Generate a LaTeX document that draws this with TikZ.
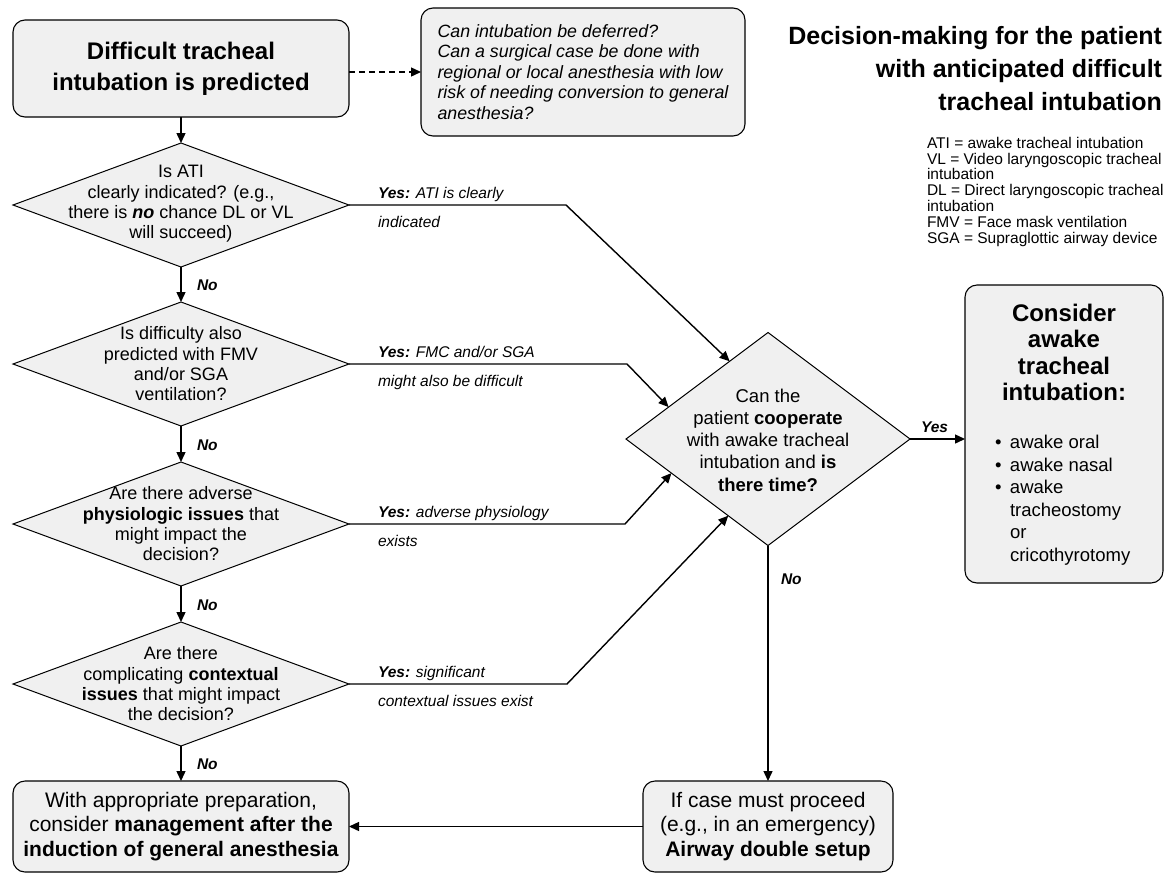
\documentclass[tikz,border=0pt]{standalone}
\usepackage{fontspec}
\setmainfont{Liberation Sans}
\usetikzlibrary{arrows.meta,shapes.geometric,calc}
\definecolor{boxfill}{RGB}{240,240,240}

\begin{document}
\begin{tikzpicture}[x=1pt,y=-1pt,
  every node/.style={inner sep=0pt, outer sep=0pt},
  rbox/.style={draw, rounded corners=12pt, fill=boxfill, line width=1.1pt, align=center},
  decision/.style={draw, diamond, fill=boxfill, line width=1pt},
  dtext/.style={align=center, font=\fontsize{18}{20.3}\selectfont},
  arr/.style={-{Triangle[length=10pt,width=9pt]}, line width=1.4pt},
  lbl/.style={anchor=base west, font=\fontsize{15.5}{18}\selectfont\itshape},
  nolbl/.style={anchor=base west, font=\fontsize{15.5}{18}\selectfont\bfseries\itshape}]

% canvas
\fill[white] (0,0) rectangle (1172,876);
\useasboundingbox (0,0) rectangle (1172,876);

% start box and the deferral question
\node[rbox, minimum width=336pt, minimum height=97pt,
      font=\fontsize{24}{31}\selectfont\bfseries] (tb) at (181,68.5)
  {Difficult tracheal\\intubation is predicted};
\node[rbox, minimum width=324pt, minimum height=128pt, align=left,
      font=\fontsize{17.8}{20.5}\selectfont\itshape] (qb) at (583,72)
  {Can intubation be deferred?\\Can a surgical case be done with\\regional or local anesthesia with low\\risk of needing conversion to general\\anesthesia?};

% title and abbreviations
\node[anchor=north east, align=right, font=\fontsize{25}{33}\selectfont\bfseries] (title) at (1162,26)
  {Decision-making for the patient\\with anticipated difficult\\tracheal intubation};
\node[anchor=north west, align=left, font=\fontsize{15.5}{15.8}\selectfont] (legend) at (927,137)
  {ATI = awake tracheal intubation\\VL = Video laryngoscopic tracheal\\intubation\\DL = Direct laryngoscopic tracheal\\intubation\\FMV = Face mask ventilation\\SGA = Supraglottic airway device};

% left column of decisions
\node[decision, minimum width=336pt, minimum height=124pt] (d1) at (181,205) {};
\node[dtext] (d1t) at (181,204) {Is ATI\\clearly indicated? (e.g.,\\there is \textbf{\textit{no}} chance DL or VL\\will succeed)};
\node[decision, minimum width=336pt, minimum height=124pt] (d2) at (181,364) {};
\node[dtext] (d2t) at (181,364) {Is difficulty also\\predicted with FMV\\and/or SGA\\ventilation?};
\node[decision, minimum width=336pt, minimum height=124pt] (d3) at (181,524) {};
\node[dtext] (d3t) at (181,524) {Are there adverse\\\textbf{physiologic issues} that\\might impact the\\decision?};
\node[decision, minimum width=336pt, minimum height=124pt] (d4) at (181,684) {};
\node[dtext] (d4t) at (181,684) {Are there\\complicating \textbf{contextual}\\\textbf{issues} that might impact\\the decision?};

% central decision
\node[decision, minimum width=284pt, minimum height=213pt] (bd) at (768,439) {};
\node[align=center, font=\fontsize{18.5}{22.2}\selectfont] (bdt) at (768,440)
  {Can the\\patient \textbf{cooperate}\\with awake tracheal\\intubation and \textbf{is}\\\textbf{there time?}};

% awake intubation box
\node[rbox, minimum width=198pt, minimum height=298pt] (rb) at (1064,434) {};
\node[anchor=north, align=center, font=\fontsize{24}{26.5}\selectfont\bfseries] (rbh) at (1064,304)
  {Consider\\awake\\tracheal\\intubation:};
\node[anchor=north west, align=left, font=\fontsize{18.5}{22.6}\selectfont] (rbl) at (995,435)
  {\makebox[15pt][l]{•}awake oral\\\makebox[15pt][l]{•}awake nasal\\\makebox[15pt][l]{•}awake\\\hspace*{15pt}tracheostomy\\\hspace*{15pt}or\\\hspace*{15pt}cricothyrotomy};

% bottom boxes
\node[rbox, minimum width=336pt, minimum height=91pt,
      font=\fontsize{21}{24.5}\selectfont] (bl) at (181,826.5)
  {With appropriate preparation,\\consider \textbf{management after the}\\\textbf{induction of general anesthesia}};
\node[rbox, minimum width=250pt, minimum height=91pt,
      font=\fontsize{21}{24.5}\selectfont] (br) at (768,826.5)
  {If case must proceed\\(e.g., in an emergency)\\\textbf{Airway double setup}};

% bend points and landing points on the central decision
\coordinate (b1) at (566,205);
\coordinate (b2) at (627,364);
\coordinate (b3) at (625,524);
\coordinate (b4) at (567,684);
\coordinate (p1) at ($(bd.west)!0.73!(bd.north)$);
\coordinate (p2) at ($(bd.west)!0.30!(bd.north)$);
\coordinate (p3) at ($(bd.west)!0.32!(bd.south)$);
\coordinate (p4) at ($(bd.west)!0.72!(bd.south)$);

% connectors
\draw[arr, dash pattern=on 6pt off 4pt] (tb.east |- qb.west) -- (qb.west);
\draw[arr] (tb.south) -- (d1.north);
\draw[arr] (d1.south) -- (d2.north);
\draw[arr] (d2.south) -- (d3.north);
\draw[arr] (d3.south) -- (d4.north);
\draw[arr] (d4.south) -- (bl.north);
\draw[arr] (d1.east) -- (b1) -- (p1);
\draw[arr] (d2.east) -- (b2) -- (p2);
\draw[arr] (d3.east) -- (b3) -- (p3);
\draw[arr] (d4.east) -- (b4) -- (p4);
\draw[arr] (bd.east) -- (bd.east -| rb.west);
\draw[arr] (bd.south) -- (br.north);
\draw[arr] (br.west) -- (br.west -| bl.east);

% connector labels
\node[nolbl] (n1) at (197,290.5) {No};
\node[nolbl] (n2) at (197,450) {No};
\node[nolbl] (n3) at (197,610) {No};
\node[nolbl] (n4) at (197,769) {No};
\node[nolbl] (n5) at (781,584) {No};
\node[nolbl] (y5) at (921,432.5) {Yes};
\node[lbl] (y1a) at (378,198.5) {\textbf{Yes:} ATI is clearly};
\node[lbl] (y1b) at (378,227.5) {indicated};
\node[lbl] (y2a) at (378,357.5) {\textbf{Yes:} FMC and/or SGA};
\node[lbl] (y2b) at (378,386.5) {might also be difficult};
\node[lbl] (y3a) at (378,517.5) {\textbf{Yes:} adverse physiology};
\node[lbl] (y3b) at (378,546.5) {exists};
\node[lbl] (y4a) at (378,677.5) {\textbf{Yes:} significant};
\node[lbl] (y4b) at (378,706.5) {contextual issues exist};
\end{tikzpicture}
\end{document}
